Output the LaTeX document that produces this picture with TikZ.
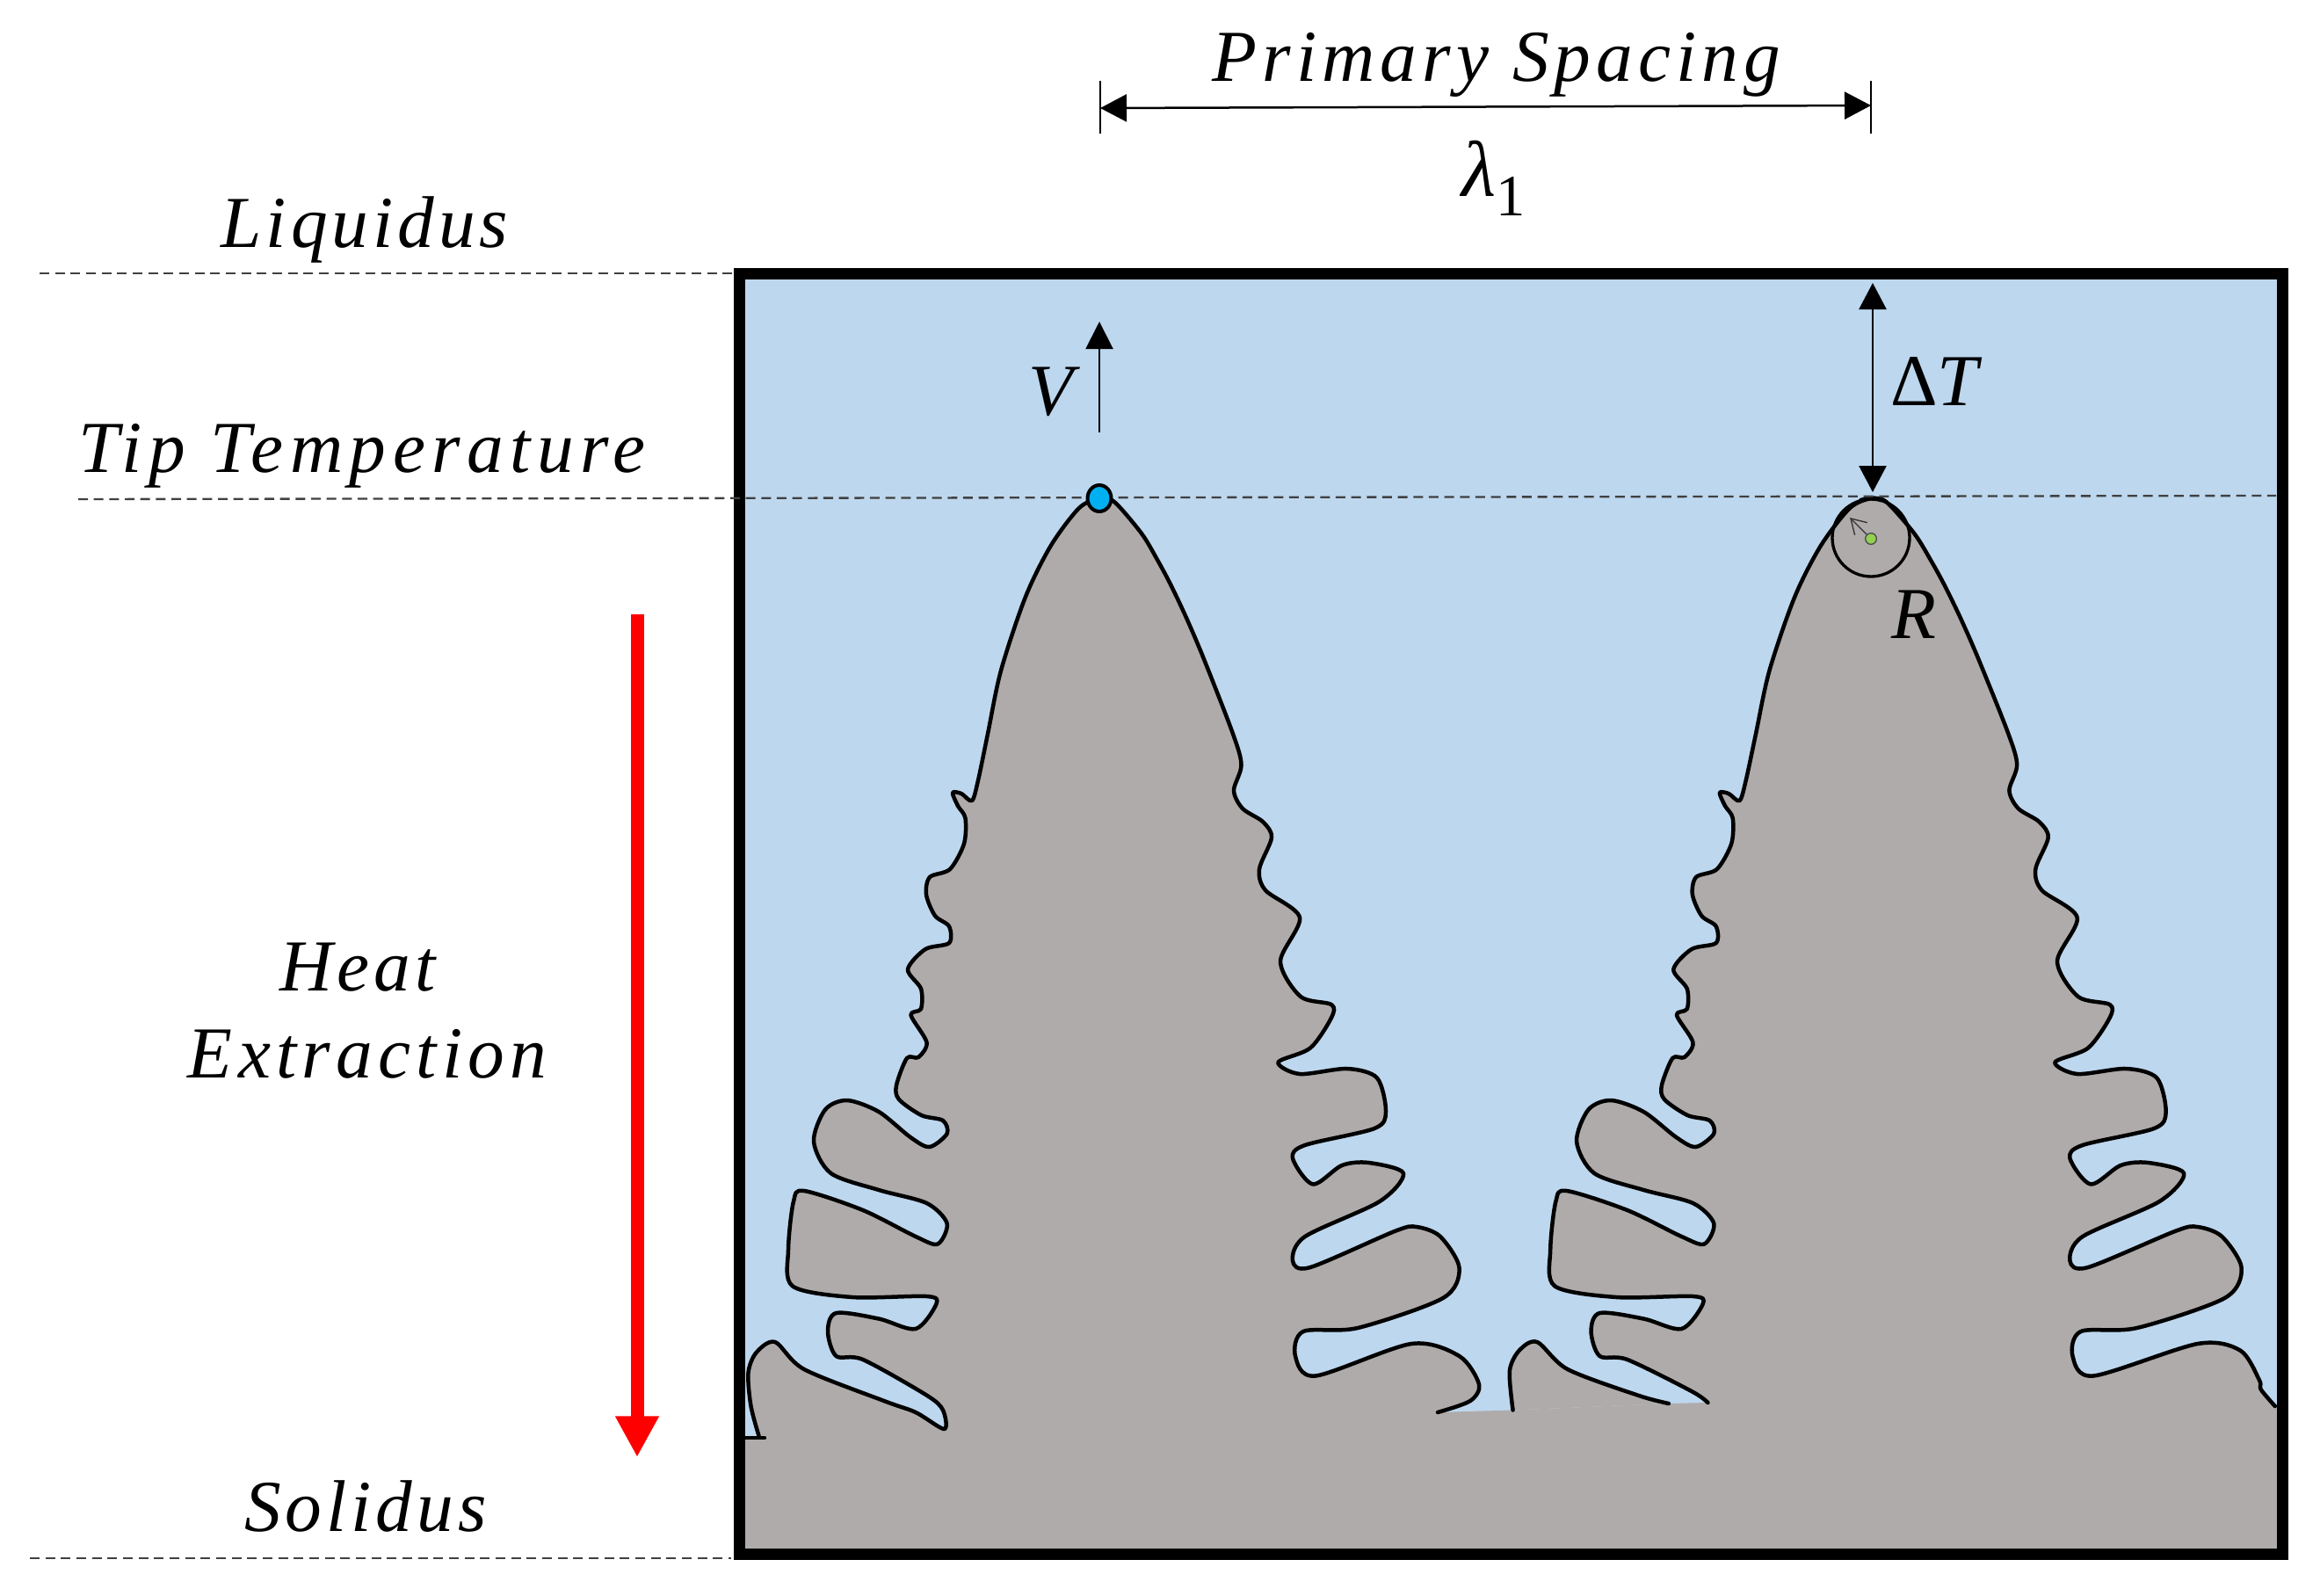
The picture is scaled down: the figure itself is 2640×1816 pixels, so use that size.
\documentclass[tikz,border=0pt]{standalone}
\usepackage{fontspec}
\setmainfont{Liberation Serif}
\newfontfamily\labfont[LetterSpace=6]{Liberation Serif}
\usetikzlibrary{arrows.meta}
\definecolor{liquidblue}{HTML}{BDD7EE}
\definecolor{solidgrey}{HTML}{AFABAB}
\definecolor{tipblue}{HTML}{00B0F0}
\definecolor{tipgreen}{HTML}{92D050}
\definecolor{dashgrey}{HTML}{404040}
\tikzset{
  outline/.style={draw=black,line width=1.35pt,line join=round,line cap=round},
  solidfill/.style={fill=solidgrey,draw=none},
  guide/.style={draw=dashgrey,line width=0.7pt,dash pattern=on 3.3pt off 2pt},
  dim/.style={draw=black,line width=0.75pt,{Triangle[length=9pt,width=9.3pt]}-{Triangle[length=9pt,width=9.3pt]}},
  up/.style={draw=black,line width=0.6pt,-{Triangle[length=9.3pt,width=9.3pt]}},
  tick/.style={draw=black,line width=0.4pt},
  lab/.style={inner sep=0pt,outer sep=0pt,anchor=base,font=\labfont\fontsize{25}{30}\selectfont\itshape,align=center},
}
% left flank of a dendrite, from the tip downward; #1 = remaining points
\newcommand\leftflank[1]{plot[smooth,tension=0.5] coordinates {(1262,569) (1251,567) (1228,578) (1196,620.5) (1167,679) (1139,763) (1124,835) (1113,888) (1106,911) (1094,903) (1084,902) (1090,917) (1098.5,931) (1097,960) (1081,989) (1058,998) (1054,1018) (1064,1042) (1080,1054) (1080,1073) (1053,1080) (1033,1103) (1048,1125) (1048,1148) (1036.5,1155) (1054.5,1186) (1045,1203) (1032,1204) (1020,1235) (1023,1251) (1048.5,1269) (1073,1275) (1077.6,1290) (1057.6,1305) (1036,1294) (1000,1265) (964,1252) (939,1262.6) (926,1299) (945.5,1335) (1000,1354) (1054.5,1369) (1077.6,1392) (1067,1415.5) (1042,1407) (982,1377) (915,1355) (903,1367) (897,1422) (902,1463.5) (970,1476) (1054.5,1475) (1065.5,1483.5) (1042,1512) (1000,1500.5) (951.5,1494) (942,1515) (951.5,1543) (982,1547) #1}}
% right flank of a dendrite, from the tip downward
\newcommand\rightflank[1]{plot[smooth,tension=0.5] coordinates {(1240,569) (1251,567) (1268,571) (1299,607) (1317,637) (1332,665) (1350,703) (1370,750) (1403,835) (1412.5,870.5) (1404,899.5) (1414,920) (1437,935) (1447,953) (1433,989) (1440,1013) (1479,1044) (1457,1094) (1480,1134) (1515,1143) (1515,1158) (1491,1192.5) (1454.5,1208.6) (1479,1222) (1533,1216) (1567,1226.5) (1577,1265) (1564,1284) (1485,1303) (1471,1318) (1494,1347.5) (1527,1326) (1557.6,1323) (1597,1335) (1570,1367) (1485,1407) (1471,1434.6) (1491,1442) (1588,1400.6) (1612,1396) (1639,1407) (1660.6,1443) (1642,1477) (1545,1511) (1483,1515) (1474,1543) (1497,1565.5) #1}}
\newcommand\leftA{(1054.5,1587.6) (1073,1604.5) (1074.5,1626) (1042,1607) (1006,1594) (915,1558) (882,1527) (860.6,1539) (851.5,1562) (854.5,1600) (863.6,1634)}
\newcommand\rightA{(1606,1529) (1660.6,1543) (1683,1575) (1673,1594) (1636,1607)}
\newcommand\leftB{(1053,1583) (1071,1596)}
\newcommand\rightB{(1612,1529) (1659.2,1536.6) (1680.3,1570.5) (1682,1581) (1697.6,1600)}
\newcommand\lump{plot[smooth,tension=0.5] coordinates {(1027.7,1597) (993.6,1587.6) (916,1558) (882.4,1527) (862.6,1536.6) (852,1560) (855.6,1604.5)}}
\begin{document}
\begin{tikzpicture}[x=0.3pt,y=-0.3pt]
\useasboundingbox (0,0) rectangle (2640,1816);
% liquid
\fill[liquidblue] (841,311) rectangle (2597,1768);
% first dendrite
\path[solidfill] \leftflank{\leftA} -- (1300,1700) -- (1300,700) -- cycle;
\path[solidfill] \rightflank{\rightA} -- (1200,1700) -- (1200,700) -- cycle;
% second dendrite
\begin{scope}[shift={(840.3,0)},xscale=1.03]
\path[solidfill] \leftflank{\leftB} -- (1300,1700) -- (1300,700) -- cycle;
\path[solidfill] \rightflank{\rightB} -- (1200,1700) -- (1200,700) -- cycle;
\path[solidfill] \lump -- cycle;
\end{scope}
% solid base
\fill[solidgrey] (841,1636) -- (1300,1636) -- (1636,1607) -- (1722,1604.5) -- (1899,1597) -- (1943,1596) -- (2597,1600) -- (2597,1768) -- (841,1768) -- cycle;
% outlines
\draw[outline] \leftflank{\leftA};
\draw[outline] (847,1636) -- (870,1636);
\draw[outline] \rightflank{\rightA};
\begin{scope}[shift={(840.3,0)},xscale=1.03]
\draw[outline] \leftflank{\leftB};
\draw[outline] \rightflank{\rightB};
\draw[outline] \lump;
\end{scope}
% frame
\draw[black,line width=3.9pt] (841,311) rectangle (2597,1768);
% guides
\coordinate (liqL) at (45,311); \coordinate (liqR) at (835,311);
\coordinate (tipL) at (89,568); \coordinate (tipR) at (2590,564);
\coordinate (solL) at (34,1773); \coordinate (solR) at (832,1773);
\draw[guide] (liqL) -- (liqR);
\draw[guide] (tipL) -- (tipR);
\draw[guide] (solL) -- (solR);
% tip markers
\draw[black,line width=1.2pt,fill=tipblue] (1251,567) ellipse (13.5 and 15);
\node[circle,draw=black,line width=1pt,minimum size=26.4pt,inner sep=0pt] (tipcircle) at (2129,612) {};
\node[circle,draw=black!70,line width=0.4pt,fill=tipgreen,minimum size=3.8pt,inner sep=0pt] (tipdot) at (2129,613) {};
\coordinate (radEnd) at (2105,589);
\draw[draw=black!80,line width=0.4pt,-{Straight Barb[length=5pt,width=6pt]}] (tipdot) -- (radEnd);
% spacing dimension
\coordinate (spL) at (1252,123); \coordinate (spR) at (2129,120);
\draw[tick] (1252,92) -- (1252,152);
\draw[tick] (2129,92) -- (2129,152);
\draw[dim] (spL) -- (spR);
% velocity and undercooling arrows
\coordinate (vA) at (1251,492); \coordinate (vB) at (1251,366);
\draw[up] (vA) -- (vB);
\coordinate (dA) at (2131,322); \coordinate (dB) at (2131,560);
\draw[dim] (dA) -- (dB);
% heat extraction arrow
\coordinate (hA) at (725,699); \coordinate (hB) at (725,1658);
\draw[red,line width=4.5pt,-{Triangle[length=14pt,width=14pt]}] (hA) -- (hB);
% labels
\node[lab] (primary) at (1703,93) {\addfontfeature{LetterSpace=7.3}Primary Spacing};
\node[lab] (lambda) at (1700,223) {\fontsize{27}{32}\selectfont λ\raisebox{-0.25em}{\fontsize{20}{24}\selectfont\upshape 1}};
\node[lab] (liq) at (415,281) {Liquidus};
\node[lab] (tip) at (412,537) {\addfontfeature{LetterSpace=9}Tip Temperature};
\node[lab] (heat) at (407,1127) {Heat};
\node[lab] (extr) at (418,1226) {\addfontfeature{LetterSpace=7.5}Extraction};
\node[lab] (sol) at (416,1742) {Solidus};
\node[lab] (vel) at (1196,472) {V};
\node[lab] (dt) at (2201,461) {{\upshape Δ}T};
\node[lab] (rad) at (2178,726) {R};
\end{tikzpicture}
\end{document}
